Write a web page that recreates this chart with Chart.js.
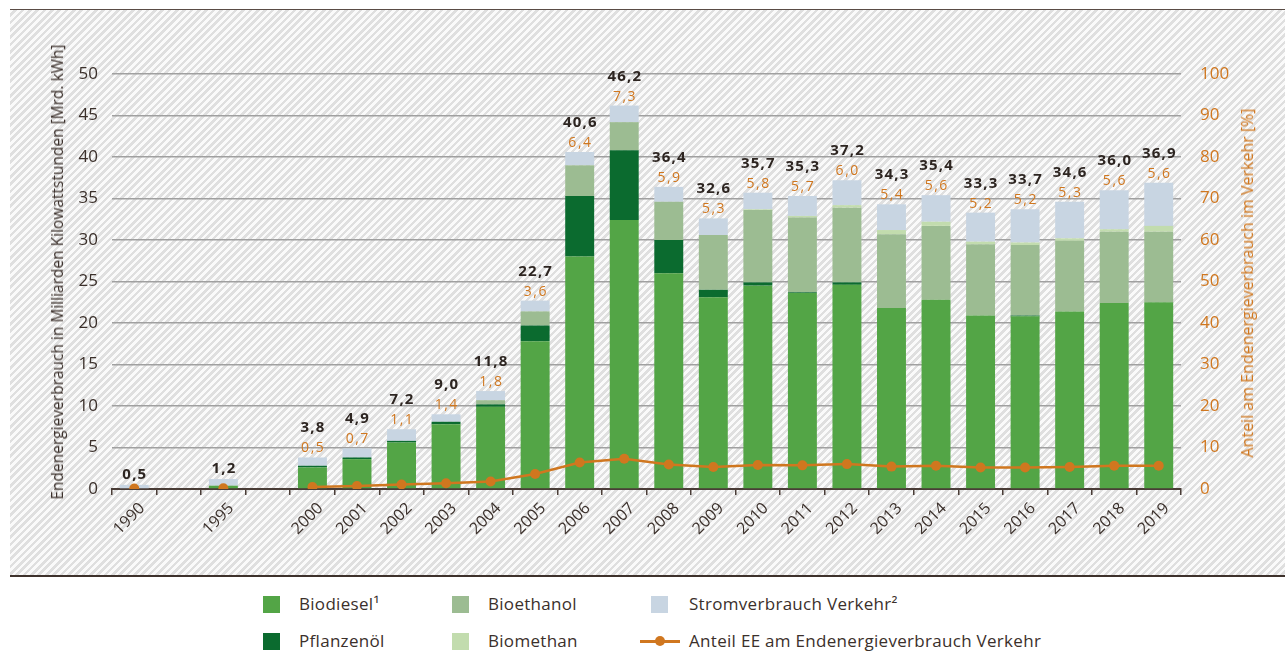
<!DOCTYPE html>
<html><head><meta charset="utf-8">
<script src="https://cdn.jsdelivr.net/npm/chart.js@4.4.1/dist/chart.umd.min.js"></script>
<style>
html,body{margin:0;padding:0;background:#fff;}
body{width:1285px;height:651px;position:relative;overflow:hidden;font-family:"Open Sans",sans-serif;color:#3b302b;}
#bg{position:absolute;left:10px;top:9px;width:1275px;height:568px;background:repeating-linear-gradient(135deg,#fafafa 0px,#fafafa 2.6px,#dfdfdf 2.6px,#dfdfdf 5.2px);border-top:1.5px solid #5a4c45;border-bottom:2px solid #3e322c;box-sizing:border-box;}
#c{position:absolute;left:0;top:0;}
.yt{position:absolute;white-space:nowrap;transform:translate(-50%,-50%) rotate(-90deg);}
#ytl{left:57px;top:272px;font-size:15.5px;color:#3b302b;}
#ytr{left:1247px;top:283px;font-size:16px;color:#d0771f;}
.lg{position:absolute;font-size:17px;letter-spacing:0.3px;color:#3b302b;white-space:nowrap;line-height:20px;}
.sq{position:absolute;width:17px;height:17px;}
.ln{position:absolute;width:40px;height:3px;background:#d0771f;}
.dot{position:absolute;width:10px;height:10px;border-radius:50%;background:#d0771f;}
</style>
</head><body>
<div id="bg"></div>
<canvas id="c" width="1285" height="576"></canvas>
<div class="yt" id="ytl">Endenergieverbrauch in Milliarden Kilowattstunden [Mrd. kWh]</div>
<div class="yt" id="ytr">Anteil am Endenergieverbrauch im Verkehr [%]</div>

<div class="sq" style="left:263px;top:596px;background:#53a546"></div>
<div class="lg" style="left:299px;top:594px">Biodiesel¹</div>
<div class="sq" style="left:452px;top:596px;background:#9cbc92"></div>
<div class="lg" style="left:488px;top:594px">Bioethanol</div>
<div class="sq" style="left:651px;top:596px;background:#c8d5e2"></div>
<div class="lg" style="left:689px;top:594px">Stromverbrauch Verkehr²</div>

<div class="sq" style="left:263px;top:633px;background:#0b6b2f"></div>
<div class="lg" style="left:299px;top:631px">Pflanzenöl</div>
<div class="sq" style="left:452px;top:633px;background:#c2dcae"></div>
<div class="lg" style="left:488px;top:631px">Biomethan</div>
<div class="ln" style="left:640px;top:640px"></div>
<div class="dot" style="left:655px;top:636px"></div>
<div class="lg" style="left:689px;top:631px">Anteil EE am Endenergieverbrauch Verkehr</div>

<script>
const categories = ['1990','','1995','','2000','2001','2002','2003','2004','2005','2006','2007','2008','2009','2010','2011','2012','2013','2014','2015','2016','2017','2018','2019'];
const biodiesel   = [0, null, 0.4, null, 2.6, 3.6, 5.6, 7.8, 9.9, 17.8, 28.0, 32.4, 26.0, 23.1, 24.5, 23.6, 24.6, 21.8, 22.8, 20.9, 20.8, 21.4, 22.4, 22.5];
const pflanzenoel = [0, null, 0, null, 0.2, 0.2, 0.2, 0.3, 0.3, 1.9, 7.3, 8.4, 4.0, 0.9, 0.4, 0.1, 0.3, 0, 0, 0, 0.1, 0, 0, 0];
const bioethanol  = [0, null, 0, null, 0, 0, 0, 0, 0.5, 1.7, 3.7, 3.4, 4.6, 6.6, 8.7, 9.0, 9.0, 8.9, 8.9, 8.6, 8.5, 8.5, 8.6, 8.5];
const biomethan   = [0, null, 0, null, 0, 0, 0, 0, 0, 0, 0, 0, 0, 0, 0.1, 0.2, 0.3, 0.5, 0.5, 0.3, 0.3, 0.3, 0.3, 0.7];
const strom       = [0.5, null, 0.8, null, 1.0, 1.1, 1.4, 0.9, 1.1, 1.3, 1.6, 2.0, 1.8, 2.0, 2.0, 2.4, 3.0, 3.1, 3.2, 3.5, 4.0, 4.4, 4.7, 5.2];
const totals      = [0.5, null, 1.2, null, 3.8, 4.9, 7.2, 9.0, 11.8, 22.7, 40.6, 46.2, 36.4, 32.6, 35.7, 35.3, 37.2, 34.3, 35.4, 33.3, 33.7, 34.6, 36.0, 36.9];
const shareEE     = [0.1, null, 0.2, null, 0.5, 0.7, 1.1, 1.4, 1.8, 3.6, 6.4, 7.3, 5.9, 5.3, 5.8, 5.7, 6.0, 5.4, 5.6, 5.2, 5.2, 5.3, 5.6, 5.6];
const leftTicks = [0, 50, 5];
const rightTicks = [0, 100, 10];

const FONT = '"Open Sans", sans-serif';
const DARK = '#3b302b';
const ORANGE = '#d0771f';
const fmt = v => v.toFixed(1).replace('.', ',');

const labelPlugin = {
  id: 'vals',
  afterDatasetsDraw(chart) {
    const ctx = chart.ctx;
    const metas = chart.getSortedVisibleDatasetMetas().filter(m => m.type === 'bar');
    ctx.save();
    ctx.textAlign = 'center';
    ctx.textBaseline = 'alphabetic';
    for (let i = 0; i < categories.length; i++) {
      if (totals[i] == null) continue;
      let top = Infinity, x = 0;
      metas.forEach(m => { const el = m.data[i]; if (el && !isNaN(el.y)) { top = Math.min(top, el.y); x = el.x; } });
      const labelShare = shareEE[i] != null && +categories[i] >= 2000;
      if (labelShare) {
        ctx.font = '14px ' + FONT;
        ctx.letterSpacing = '1.5px';
        ctx.fillStyle = ORANGE;
        ctx.fillText(fmt(shareEE[i]), x + 0.75, top - 5);
        ctx.font = 'bold 15px ' + FONT;
        ctx.letterSpacing = '1.2px';
        ctx.fillStyle = '#2d2521';
        ctx.fillText(fmt(totals[i]), x + 0.6, top - 25);
      } else {
        ctx.font = 'bold 15px ' + FONT;
        ctx.letterSpacing = '1.2px';
        ctx.fillStyle = '#2d2521';
        ctx.fillText(fmt(totals[i]), x + 0.6, top - 6);
      }
    }
    ctx.restore();
  }
};

new Chart(document.getElementById('c'), {
  type: 'bar',
  data: {
    labels: categories,
    datasets: [
      { type: 'line', label: 'Anteil EE am Endenergieverbrauch Verkehr', data: shareEE, yAxisID: 'y1',
        borderColor: ORANGE, backgroundColor: ORANGE, borderWidth: 2.5, pointRadius: 5, pointHoverRadius: 5,
        pointBorderWidth: 0, spanGaps: false, tension: 0, order: 0 },
      { label: 'Biodiesel¹', data: biodiesel, backgroundColor: '#53a546', order: 1 },
      { label: 'Pflanzenöl', data: pflanzenoel, backgroundColor: '#0b6b2f', order: 1 },
      { label: 'Bioethanol', data: bioethanol, backgroundColor: '#9cbc92', order: 1 },
      { label: 'Biomethan', data: biomethan, backgroundColor: '#c2dcae', order: 1 },
      { label: 'Stromverbrauch Verkehr²', data: strom, backgroundColor: '#c8d5e2', order: 1 }
    ]
  },
  options: {
    responsive: false, animation: false, devicePixelRatio: 1,
    layout: { padding: { top: 74, left: 0, right: 0, bottom: 0 } },
    plugins: { legend: { display: false }, tooltip: { enabled: false } },
    datasets: { bar: { categoryPercentage: 0.65, barPercentage: 1, borderWidth: 0 } },
    scales: {
      x: {
        stacked: true,
        grid: { display: true, drawOnChartArea: false, drawTicks: true, tickLength: 6, color: '#4a3d37', lineWidth: 1.5 },
        border: { display: true, color: '#4a3d37', width: 2 },
        ticks: { autoSkip: false, maxRotation: 45, minRotation: 45, labelOffset: 8, font: { family: FONT, size: 16 }, color: DARK, padding: 4 },
        afterFit(s) { s.height = 87; }
      },
      y: {
        stacked: true, min: leftTicks[0], max: leftTicks[1],
        ticks: { stepSize: leftTicks[2], font: { family: FONT, size: 17 }, color: DARK, padding: 14 },
        grid: { color: '#a0a0a0', lineWidth: 1.5, drawTicks: false },
        border: { display: false },
        afterFit(s) { s.width = 112; }
      },
      y1: {
        position: 'right', min: rightTicks[0], max: rightTicks[1],
        ticks: { stepSize: rightTicks[2], font: { family: FONT, size: 17 }, color: ORANGE, padding: 19 },
        grid: { display: false, drawTicks: false },
        border: { display: false },
        afterFit(s) { s.width = 104; }
      }
    }
  },
  plugins: [labelPlugin]
});
</script>
</body></html>
